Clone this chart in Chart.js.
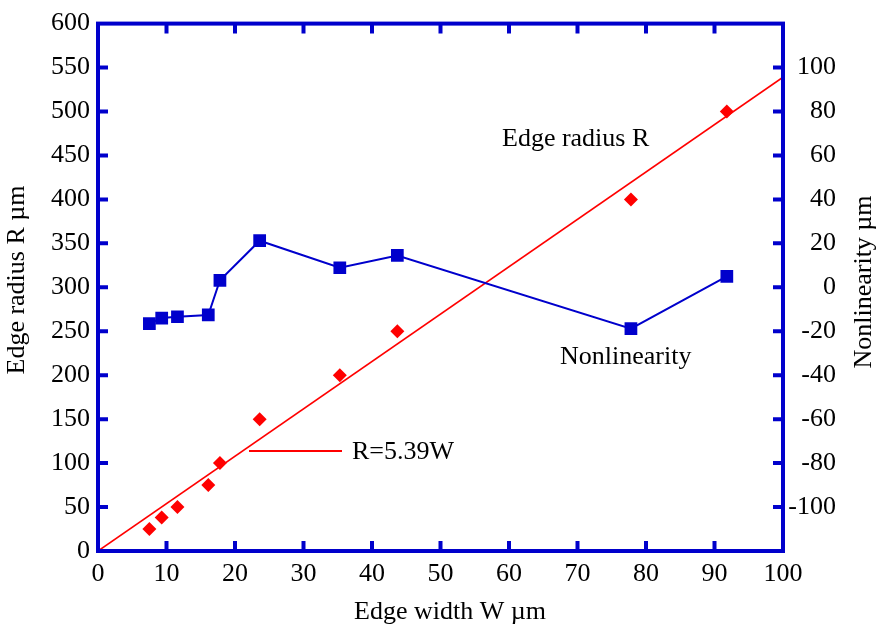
<!DOCTYPE html>
<html>
<head>
<meta charset="utf-8">
<script src="https://cdn.jsdelivr.net/npm/chart.js@4.4.1/dist/chart.umd.min.js"></script>
<style>
  html, body { margin: 0; padding: 0; background: #fff; }
  #wrap { width: 881px; height: 624px; }
</style>
</head>
<body>
<div id="wrap"><canvas id="chart" width="881" height="624"></canvas></div>
<script>
// edge width W (um) of each sample
var edgeWidth = [7.5, 9.3, 11.6, 16.1, 17.8, 23.6, 35.3, 43.7, 77.8, 91.8];
// measured edge radius R (um), left axis
var edgeRadius = [25, 38, 50, 75, 100, 150, 200, 250, 400, 500];
// nonlinearity (um), right axis
var nonlinearity = [-16.5, -14, -13.4, -12.6, 3.2, 21.2, 8.9, 14.5, -18.8, 5];
// fitted line R = 5.39W, end points
var fitW = [0, 100];
var fitR = [0, 539];

var BLUE = '#0000cc';
var RED = '#ff0000';
var FONT = 'Liberation Serif, Times New Roman, serif';

function pts(xs, ys) {
  return xs.map(function (x, i) { return { x: x, y: ys[i] }; });
}

// frame with inward ticks, axis titles and notes
var framePlugin = {
  id: 'frame',
  afterDraw: function (chart) {
    var ctx = chart.ctx, a = chart.chartArea, s = chart.scales;
    ctx.save();
    ctx.strokeStyle = BLUE;
    ctx.lineWidth = 4;
    ctx.strokeRect(a.left, a.top, a.right - a.left, a.bottom - a.top);

    ctx.beginPath();
    s.x.ticks.forEach(function (t) {
      if (t.value <= s.x.min || t.value >= s.x.max) return;
      var px = s.x.getPixelForValue(t.value);
      ctx.moveTo(px, a.bottom); ctx.lineTo(px, a.bottom - 10);
      ctx.moveTo(px, a.top); ctx.lineTo(px, a.top + 10);
    });
    s.y.ticks.forEach(function (t) {
      if (t.value <= s.y.min || t.value >= s.y.max) return;
      var py = s.y.getPixelForValue(t.value);
      ctx.moveTo(a.left, py); ctx.lineTo(a.left + 10, py);
    });
    s.y2.ticks.forEach(function (t) {
      if (t.value <= s.y2.min || t.value >= s.y2.max) return;
      var py = s.y2.getPixelForValue(t.value);
      ctx.moveTo(a.right, py); ctx.lineTo(a.right - 10, py);
    });
    ctx.stroke();

    // key line for the fit
    ctx.strokeStyle = RED;
    ctx.lineWidth = 2;
    ctx.beginPath();
    ctx.moveTo(249, 451); ctx.lineTo(342, 451);
    ctx.stroke();

    ctx.fillStyle = '#000';
    ctx.font = '26px ' + FONT;
    ctx.textBaseline = 'alphabetic';
    ctx.textAlign = 'left';
    ctx.fillText('R=5.39W', 352, 459);
    ctx.fillText('Edge radius R', 502, 146);
    ctx.fillText('Nonlinearity', 560, 364);

    ctx.textAlign = 'center';
    ctx.fillText('Edge width W \u00b5m', 450, 619);

    ctx.textBaseline = 'middle';
    ctx.translate(17, 280);
    ctx.rotate(-Math.PI / 2);
    ctx.fillText('Edge radius R \u00b5m', 0, 0);
    ctx.restore();

    ctx.save();
    ctx.fillStyle = '#000';
    ctx.font = '26px ' + FONT;
    ctx.textAlign = 'center';
    ctx.textBaseline = 'middle';
    ctx.translate(864, 282);
    ctx.rotate(-Math.PI / 2);
    ctx.fillText('Nonlinearity \u00b5m', 0, 0);
    ctx.restore();
  }
};

var tickFont = { family: FONT, size: 26 };

var chart = new Chart(document.getElementById('chart').getContext('2d'), {
  type: 'scatter',
  data: {
    datasets: [
      {
        label: 'Edge radius R',
        data: pts(edgeWidth, edgeRadius),
        yAxisID: 'y',
        showLine: false,
        pointStyle: 'rectRot',
        pointRadius: 7,
        pointBackgroundColor: RED,
        pointBorderWidth: 0
      },
      {
        label: 'Nonlinearity',
        data: pts(edgeWidth, nonlinearity),
        yAxisID: 'y2',
        showLine: true,
        borderColor: BLUE,
        borderWidth: 2,
        pointStyle: 'rect',
        pointRadius: 9,
        pointBackgroundColor: BLUE,
        pointBorderWidth: 0
      },
      {
        label: 'R=5.39W',
        data: pts(fitW, fitR),
        yAxisID: 'y',
        showLine: true,
        borderColor: RED,
        borderWidth: 1.6,
        pointRadius: 0
      }
    ]
  },
  options: {
    responsive: false,
    animation: false,
    devicePixelRatio: 1,
    layout: { padding: { top: 17, right: 45, left: 0, bottom: 0 } },
    plugins: { legend: { display: false }, tooltip: { enabled: false } },
    scales: {
      x: {
        type: 'linear', position: 'bottom', min: 0, max: 100,
        grid: { display: false, drawTicks: false },
        border: { display: false },
        ticks: { stepSize: 10, font: tickFont, color: '#000', padding: 8, maxRotation: 0 },
        afterFit: function (sc) { sc.height = 73; }
      },
      y: {
        type: 'linear', position: 'left', min: 0, max: 600,
        grid: { display: false, drawTicks: false },
        border: { display: false },
        ticks: { stepSize: 50, font: tickFont, color: '#000', padding: 8 },
        afterFit: function (sc) { sc.width = 98; }
      },
      y2: {
        type: 'linear', position: 'right', min: -120, max: 120,
        grid: { display: false, drawTicks: false },
        border: { display: false },
        ticks: {
          stepSize: 20, font: tickFont, color: '#000', padding: 6, crossAlign: 'far',
          callback: function (v) { return (v === 120 || v === -120) ? '' : v; }
        },
        afterFit: function (sc) { sc.width = 53; }
      }
    }
  },
  plugins: [framePlugin]
});
</script>
</body>
</html>
